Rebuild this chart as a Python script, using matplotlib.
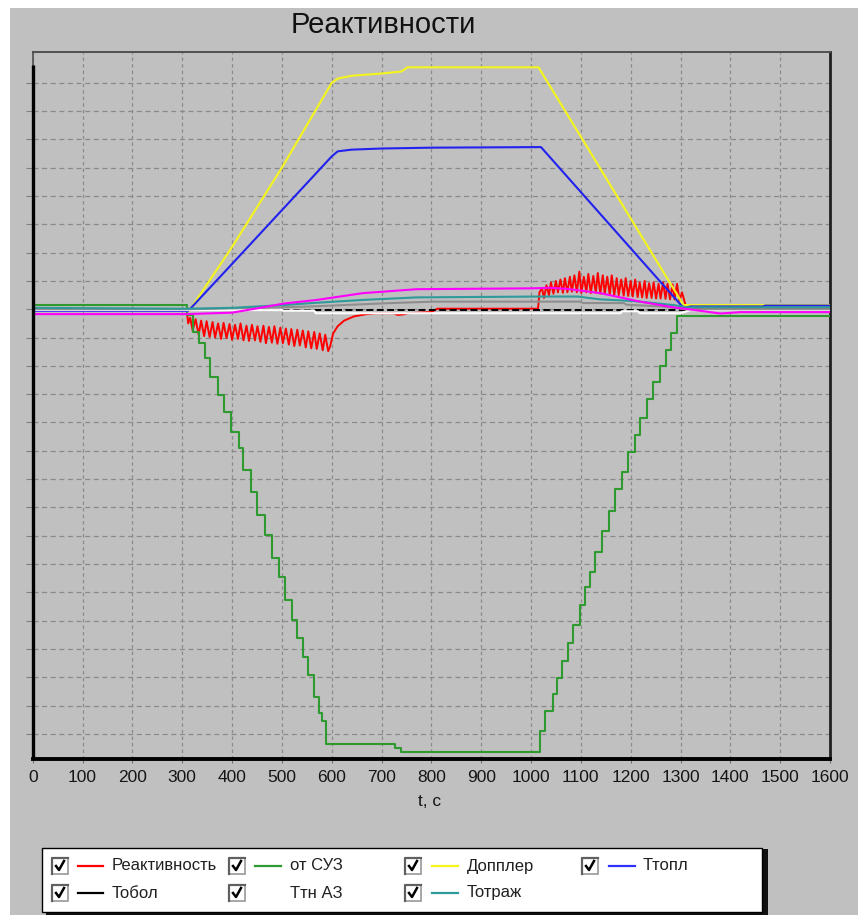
import matplotlib
matplotlib.use('Agg')
import matplotlib.pyplot as plt
from matplotlib.patches import Rectangle
from matplotlib.lines import Line2D

plt.rcParams['font.family'] = ['Liberation Sans', 'DejaVu Sans']
plt.rcParams['lines.scale_dashes'] = False

# ---- data (t in seconds, values in grid units) ----
x_ticks = list(range(0, 1700, 100))

# Реактивность (red): rods going in, then recovery, then rods going out
red_t1 = [0, 309, 312, 316, 321, 327, 333, 338, 344, 349, 355, 361, 366, 372, 378, 383, 389,
          395, 400, 406, 412, 417, 423, 429, 434, 440, 446, 451, 457, 463, 468, 474, 480, 485,
          491, 497, 502, 508, 514, 519, 525, 531, 536, 542, 548, 553, 559, 565, 570, 576, 582,
          587, 593, 597, 603, 612, 625, 645, 671, 690, 725, 732, 745, 752, 800, 812, 1014]
red_y1 = [0.0, 0.0, -0.5, -0.3, -0.75, -0.35, -0.9, -0.4, -0.95, -0.42, -0.98, -0.45, -1.0,
          -0.5, -1.05, -0.48, -1.02, -0.52, -1.08, -0.55, -1.05, -0.5, -1.1, -0.58, -1.12,
          -0.55, -1.1, -0.6, -1.15, -0.58, -1.2, -0.62, -1.18, -0.6, -1.22, -0.65, -1.2, -0.68,
          -1.25, -0.7, -1.3, -0.72, -1.28, -0.75, -1.35, -0.78, -1.38, -0.8, -1.4, -0.85, -1.45,
          -0.9, -1.48, -1.3, -0.85, -0.6, -0.4, -0.25, -0.17, -0.14, -0.14, -0.2, -0.18, -0.14,
          -0.1, 0.02, 0.02]
red_t2 = [1017, 1022, 1026, 1031, 1036, 1040, 1045, 1050, 1054, 1059, 1064, 1068, 1073, 1078,
          1082, 1087, 1092, 1097, 1101, 1106, 1111, 1115, 1120, 1125, 1130, 1134, 1139, 1144,
          1148, 1153, 1158, 1162, 1167, 1172, 1176, 1181, 1186, 1190, 1195, 1200, 1204, 1209,
          1214, 1218, 1223, 1228, 1232, 1237, 1242, 1246, 1251, 1256, 1260, 1265, 1270, 1274,
          1279, 1284, 1288, 1293, 1298, 1303, 1310, 1320, 1335, 1345, 1600]
red_y2 = [0.6, 0.75, 0.4, 0.85, 0.5, 0.95, 0.55, 1.0, 0.6, 1.05, 0.58, 1.1, 0.6, 1.15, 0.62,
          1.2, 0.6, 1.33, 0.58, 1.15, 0.6, 1.25, 0.57, 1.18, 0.58, 1.28, 0.55, 1.2, 0.55, 1.15,
          0.52, 1.2, 0.5, 1.1, 0.5, 1.05, 0.48, 1.1, 0.47, 1.0, 0.45, 1.05, 0.43, 0.95, 0.42,
          1.0, 0.4, 0.92, 0.4, 0.95, 0.38, 0.9, 0.38, 0.95, 0.37, 0.9, 0.35, 0.88, 0.35, 0.9,
          0.3, 0.6, 0.15, 0.08, 0.05, 0.0, 0.0]

# от СУЗ (green), step levels (steps-post)
suz_t = [0, 309, 321, 333, 346, 356, 371, 384, 398, 413, 423, 438, 451, 466, 480, 495, 507,
         520, 530, 543, 553, 565, 574, 580, 589, 728, 740, 1019, 1029, 1044, 1052, 1063, 1074,
         1084, 1098, 1109, 1119, 1129, 1143, 1156, 1169, 1183, 1195, 1208, 1219, 1233, 1245,
         1258, 1271, 1280, 1293, 1600]
suz_y = [0.15, -0.2, -0.79, -1.2, -1.73, -2.38, -3.03, -3.62, -4.32, -4.91, -5.68, -6.44,
         -7.27, -7.98, -8.8, -9.45, -10.27, -10.98, -11.63, -12.27, -12.92, -13.69, -14.28,
         -14.54, -15.37, -15.5, -15.65, -14.89, -14.18, -13.6, -13.04, -12.43, -11.8, -11.16,
         -10.45, -9.82, -9.27, -8.57, -7.83, -7.12, -6.35, -5.76, -5.05, -4.44, -3.85, -3.17,
         -2.56, -2.0, -1.44, -0.83, -0.23, -0.23]

# Допплер (yellow)
dop_t = [0, 314, 400, 500, 600, 612, 640, 700, 740, 752, 1015, 1306, 1325, 1600]
dop_y = [-0.06, -0.06, 2.2, 5.0, 8.0, 8.15, 8.25, 8.33, 8.4, 8.55, 8.55, 0.15, 0.15, 0.15]

# Ттопл (blue)
top_t = [0, 312, 400, 500, 600, 612, 640, 700, 800, 1020, 1306, 1320, 1465, 1470, 1600]
top_y = [-0.06, -0.06, 1.6, 3.5, 5.4, 5.58, 5.64, 5.68, 5.71, 5.73, 0.05, 0.1, 0.1, 0.13, 0.13]

# Тобол (black)
tob_t = [0, 1600]
tob_y = [-0.03, -0.03]

# Ттн АЗ (white)
ttn_t = [0, 500, 503, 565, 568, 1180, 1182, 1215, 1218, 1300, 1320, 1600]
ttn_y = [-0.03, -0.03, -0.05, -0.05, -0.14, -0.14, -0.07, -0.07, -0.14, -0.14, -0.03, -0.03]

# Тотраж (teal)
otr_t = [0, 310, 400, 503, 570, 663, 771, 1018, 1093, 1139, 1206, 1285, 1314, 1600]
otr_y = [0.05, 0.02, 0.05, 0.15, 0.23, 0.33, 0.42, 0.45, 0.45, 0.35, 0.29, 0.15, 0.07, 0.07]

# extra unlabelled series (grey, magenta)
gry_t = [0, 310, 450, 560, 640, 720, 805, 1099, 1104, 1186, 1192, 1260, 1310, 1600]
gry_y = [0.0, 0.0, 0.05, 0.1, 0.16, 0.22, 0.27, 0.27, 0.22, 0.22, 0.16, 0.1, 0.0, 0.0]
mag_t = [0, 310, 400, 440, 503, 570, 663, 771, 1004, 1039, 1073, 1139, 1219, 1285, 1326,
         1380, 1420, 1600]
mag_y = [-0.17, -0.17, -0.12, 0.0, 0.2, 0.33, 0.57, 0.71, 0.74, 0.76, 0.72, 0.57, 0.27, 0.07,
         -0.02, -0.15, -0.1, -0.1]

legend_rows = [
    [('Реактивность', '#FF0000'), ('от СУЗ', '#2F9A2F'), ('Допплер', '#F5F51E'), ('Ттопл', '#3030FF')],
    [('Тобол', '#000000'), ('Ттн АЗ', None), ('Тотраж', '#2E9A9A')],
]

W, H = 858, 915
BG = '#C0C0C0'


def fx(x):
    return x / W


def fy(y):
    return 1 - y / H


fig = plt.figure(figsize=(W / 100, H / 100), dpi=100, facecolor='white')
fig.patches.append(Rectangle((fx(10), 0), 1 - fx(10), fy(8), transform=fig.transFigure,
                             facecolor=BG, edgecolor='none', zorder=-5))

ax = fig.add_axes([fx(32.7), fy(759), fx(830) - fx(32.7), fy(52) - fy(759)])
ax.set_facecolor(BG)
ax.set_xlim(0, 1600)
ax.set_ylim(-15.89, 9.09)

lw = 1.5
ax.plot(red_t1 + red_t2, red_y1 + red_y2, color='#FF0000', lw=1.4, zorder=2)
ax.plot(suz_t, suz_y, color='#2F9A2F', lw=lw, drawstyle='steps-post', zorder=3)
ax.plot(dop_t, dop_y, color='#F5F51E', lw=lw, zorder=3)
ax.plot(top_t, top_y, color='#2222EE', lw=lw, zorder=3.1)
ax.plot(tob_t, tob_y, color='#000000', lw=1.4, linestyle=(0, (5, 2.5)), zorder=3.2)
ax.plot(ttn_t, ttn_y, color='#FFFFFF', lw=lw, zorder=3.3)
ax.plot(gry_t, gry_y, color='#8E8E8E', lw=lw, zorder=3.4)
ax.plot(otr_t, otr_y, color='#2E9A9A', lw=lw, zorder=3.5)
ax.plot(mag_t, mag_y, color='#FF00FF', lw=lw, zorder=3.6)

ax.set_xticks(x_ticks)
ax.set_yticks(range(-15, 9))
ax.tick_params(axis='x', direction='out', length=3, color='#707070', labelsize=12.5,
               pad=5, labelcolor='#151515')
ax.tick_params(axis='y', direction='out', length=5, color='#808080', labelleft=False)
ax.grid(axis='y', color='#8A8A8A', lw=0.9, linestyle=(0, (3.6, 2.6)))
ax.grid(axis='x', color='#8A8A8A', lw=0.9, linestyle=(0, (2.5, 2.2)))
ax.set_axisbelow(True)

ax.spines['top'].set_color('#505050')
ax.spines['top'].set_linewidth(1.4)
ax.spines['left'].set_color('#505050')
ax.spines['left'].set_linewidth(1.2)
ax.spines['bottom'].set_color('black')
ax.spines['bottom'].set_linewidth(2.8)
ax.spines['right'].set_color('#202020')
ax.spines['right'].set_linewidth(2.0)
ax.plot([0, 0], [0, (759 - 65) / (759 - 52)], transform=ax.transAxes, color='black',
        lw=2.4, clip_on=False, zorder=6, solid_capstyle='butt')

fig.text(fx(383), fy(25), 'Реактивности', ha='center', va='center', fontsize=21,
         color='#111111')
fig.text(fx(430), fy(801), 't, c', ha='center', va='center', fontsize=12.5, color='#151515')

# ---- legend box with check boxes ----
fig.patches.append(Rectangle((fx(46), fy(917)), fx(722), 68 / H, transform=fig.transFigure,
                             facecolor='#101010', edgecolor='none', zorder=1))
fig.patches.append(Rectangle((fx(42), fy(912)), fx(720), 64 / H, transform=fig.transFigure,
                             facecolor='white', edgecolor='black', lw=1, zorder=2))

col_box = [52, 229, 405, 582]
col_line = [(78, 103), (255, 281), (432, 458), (609, 635)]
col_text = [112, 290, 467, 643]
row_y = [866, 893]
for r, row in enumerate(legend_rows):
    yc = row_y[r]
    for c, (name, col) in enumerate(row):
        bx = col_box[c]
        # sunken check box: light face, dark top/left edge
        fig.patches.append(Rectangle((fx(bx), fy(yc + 8)), fx(16), 16 / H,
                                     transform=fig.transFigure, facecolor='white',
                                     edgecolor='#A0A0A0', lw=1.3, zorder=3))
        fig.lines.append(Line2D([fx(bx), fx(bx), fx(bx + 16)],
                                [fy(yc + 8), fy(yc - 8), fy(yc - 8)],
                                transform=fig.transFigure, color='#606060', lw=1.6, zorder=3.5))
        fig.lines.append(Line2D([fx(bx + 4), fx(bx + 7), fx(bx + 12)],
                                [fy(yc), fy(yc + 4), fy(yc - 5)],
                                transform=fig.transFigure, color='black', lw=1.8, zorder=4))
        if col is not None:
            x0, x1 = col_line[c]
            fig.lines.append(Line2D([fx(x0), fx(x1)], [fy(yc), fy(yc)],
                                    transform=fig.transFigure, color=col, lw=1.6, zorder=4))
        fig.text(fx(col_text[c]), fy(yc), name, ha='left', va='center', fontsize=12,
                 color='#202020', zorder=5)

fig.savefig('out.png', dpi=100, facecolor='white')
